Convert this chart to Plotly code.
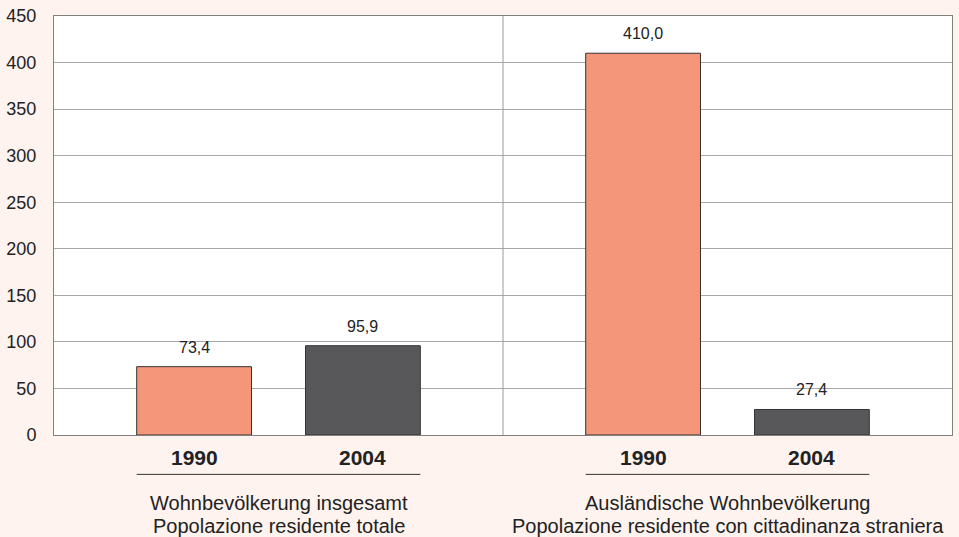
import plotly.graph_objects as go

groups_de = ["Wohnbevölkerung insgesamt", "Ausländische Wohnbevölkerung"]
groups_it = ["Popolazione residente totale", "Popolazione residente con cittadinanza straniera"]
years = ["1990", "2004"]
values_1990 = [73.4, 410.0]
values_2004 = [95.9, 27.4]
colors = {"1990": "#F4967A", "2004": "#58585A"}
yticks = [0, 50, 100, 150, 200, 250, 300, 350, 400, 450]

BARGAP = 0.248
BARGROUPGAP = 0.32
FONT = "Liberation Sans, Arial, sans-serif"
TXT = "#222222"

x_idx = list(range(len(groups_de)))
fig = go.Figure()
for yr, vals in zip(years, [values_1990, values_2004]):
    fig.add_trace(go.Bar(
        x=x_idx, y=vals, name=yr,
        marker=dict(color=colors[yr], line=dict(color="#333333", width=1)),
        hoverinfo="y",
    ))

half = (1 - BARGAP) / 2
anns = []
shapes = []
for i, g in enumerate(x_idx):
    for j, (yr, vals) in enumerate(zip(years, [values_1990, values_2004])):
        xc = g - half / 2 + j * half
        anns.append(dict(x=xc, y=-0.053, xref="x", yref="paper", text="<b>%s</b>" % yr,
                         showarrow=False, font=dict(size=21, color=TXT, family=FONT),
                         yanchor="middle"))
        anns.append(dict(x=xc, y=vals[i], xref="x", yref="y",
                         text=("%.1f" % vals[i]).replace(".", ","),
                         showarrow=False, font=dict(size=16, color=TXT, family=FONT),
                         yanchor="bottom", yshift=9))
    bw = half * (1 - BARGROUPGAP)
    x0 = g - half / 2 - bw / 2
    x1 = g + half / 2 + bw / 2
    shapes.append(dict(type="line", xref="x", yref="paper", x0=x0, x1=x1, y0=-0.094, y1=-0.094,
                       line=dict(color="#333333", width=1)))
    anns.append(dict(x=g, y=-0.163, xref="x", yref="paper", text=groups_de[i], showarrow=False,
                     font=dict(size=20, color=TXT, family=FONT), yanchor="middle"))
    anns.append(dict(x=g, y=-0.217, xref="x", yref="paper", text=groups_it[i], showarrow=False,
                     font=dict(size=20, color=TXT, family=FONT), yanchor="middle"))

shapes.append(dict(type="line", xref="x", yref="paper", x0=0.5, x1=0.5, y0=0, y1=1,
                   line=dict(color="#9a9a9a", width=1)))

fig.update_layout(
    width=959, height=537,
    margin=dict(l=53, r=6, t=16, b=102),
    paper_bgcolor="#FEF3EE", plot_bgcolor="#FFFFFF",
    barmode="group", bargap=BARGAP, bargroupgap=BARGROUPGAP,
    showlegend=False,
    annotations=anns, shapes=shapes,
    font=dict(family=FONT, color=TXT),
)
fig.update_xaxes(range=[-0.5, 1.5], showticklabels=False, showgrid=False, zeroline=False,
                 showline=True, linecolor="#808080", mirror=True, linewidth=1)
fig.update_yaxes(range=[0, 450], tickvals=yticks, showgrid=True, gridcolor="#A8A8A8",
                 zeroline=False, showline=True, linecolor="#808080", mirror=True, linewidth=1,
                 tickfont=dict(size=18, color=TXT, family=FONT), ticks="", ticklen=0,
                 ticklabelstandoff=13)
fig.write_html("out.html", config={"displayModeBar": False},
               post_script="document.body.style.margin='0';document.body.style.background='#FEF3EE';")
